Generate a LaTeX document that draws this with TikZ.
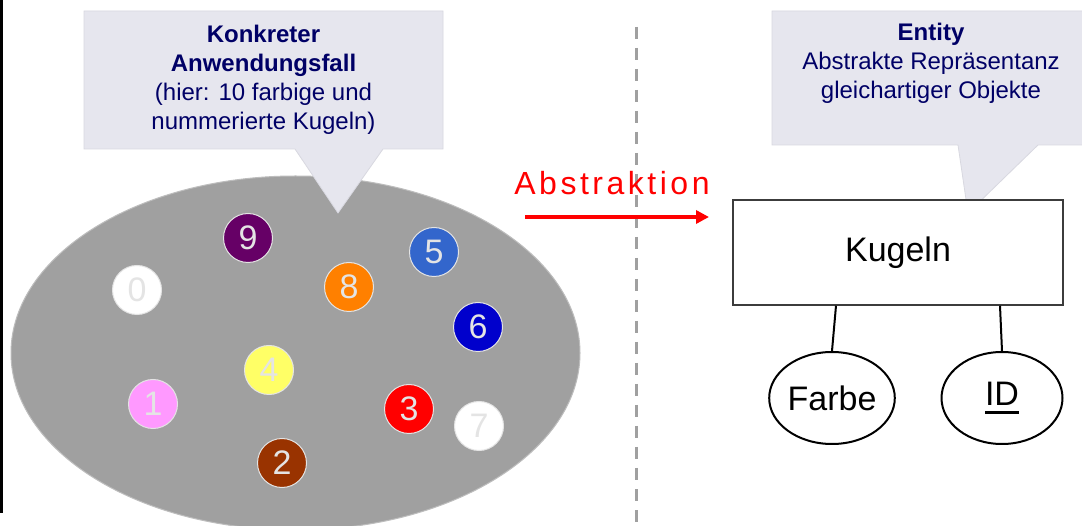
\documentclass[tikz,border=0pt]{standalone}
\usepackage{fontspec}
\setmainfont{Liberation Sans}
\usetikzlibrary{shapes.geometric,arrows.meta,calc}
\definecolor{calloutfill}{RGB}{230,230,238}
\definecolor{calloutedge}{RGB}{216,216,224}
\definecolor{navytext}{RGB}{0,0,102}
\definecolor{blobgray}{RGB}{160,160,160}
\definecolor{numgray}{RGB}{228,228,228}
\definecolor{divider}{RGB}{160,160,160}
\definecolor{boxedge}{RGB}{60,60,60}
\definecolor{cPurple}{RGB}{102,0,102}
\definecolor{cOrange}{RGB}{255,128,0}
\definecolor{cSky}{RGB}{51,102,204}
\definecolor{cBlue}{RGB}{0,0,204}
\definecolor{cYellow}{RGB}{255,255,102}
\definecolor{cPink}{RGB}{255,153,255}
\definecolor{cRed}{RGB}{255,0,0}
\definecolor{cBrown}{RGB}{153,51,0}
% key attribute: text with a thick underline
\newcommand\keyattr[1]{\setbox0\hbox{#1}\rlap{\vrule height -5.5pt depth 8.3pt width \wd0}\box0}
\tikzset{
  callout/.style={fill=calloutfill,draw=calloutedge,line width=0.8},
  callouttext/.style={text=navytext,align=center,inner sep=0,
    font=\fontsize{24}{29}\selectfont},
  ball/.style={circle,fill=#1,draw=numgray,line width=1,minimum size=49,
    inner sep=0,text=numgray,font=\fontsize{34}{34}\selectfont},
  entitybox/.style={draw=boxedge,line width=1.5,minimum width=330,
    minimum height=105,inner sep=0,font=\fontsize{34}{34}\selectfont},
  attribute/.style={ellipse,draw=black,line width=2,minimum width=121,
    minimum height=92,inner sep=0,font=\fontsize{34}{34}\selectfont},
  erline/.style={draw=black,line width=2},
  abstractarrow/.style={draw=red,line width=4,
    -{Triangle[length=13,width=13]}},
}
\begin{document}
\begin{tikzpicture}[x=1pt,y=-1pt]
\useasboundingbox (0,0) rectangle (1082,526);
\fill[white] (0,0) rectangle (1082,526);

% thin dark rule on the left edge
\fill[black] (0,0) rectangle (2.7,513);

% divider between concrete and abstract side
\draw[divider,line width=3,dash pattern=on 12 off 9] (636,27) coordinate (divtop) -- (636,522) coordinate (divbot);

% the set of balls
\node[ellipse,fill=blobgray,draw=blobgray!70!white,line width=1,
      minimum width=569,minimum height=354,inner sep=0] (blob) at (295.5,353) {};

% left callout
\path[callout] (84,11) -- (443,11) -- (443,149) -- (383,149) -- (338,213)
  -- (295,149) -- (84,149) -- cycle;
\node[callouttext] (concrete) at (263.5,80)
  {\textbf{Konkreter}\\\textbf{Anwendungsfall}\\(hier: 10 farbige und\\nummerierte Kugeln)};

% balls
\node[ball=cPurple] (b9) at (248,238) {9};
\node[ball=white]   (b0) at (137,290) {0};
\node[ball=cOrange] (b8) at (349,287) {8};
\node[ball=cSky]    (b5) at (434,252) {5};
\node[ball=cBlue]   (b6) at (478,327) {6};
\node[ball=cYellow] (b4) at (269,370) {4};
\node[ball=cPink]   (b1) at (153,404) {1};
\node[ball=cRed]    (b3) at (409,409) {3};
\node[ball=white]   (b7) at (479,426) {7};
\node[ball=cBrown]  (b2) at (282,463) {2};

% abstraction arrow
\node[text=red,inner sep=0,font=\fontsize{32}{32}\selectfont\addfontfeature{LetterSpace=11}]
  (abstr) at (612,183) {Abstraktion};
\coordinate (arrstart) at (525,217);
\coordinate (arrend) at (709,217);
\draw[abstractarrow] (arrstart) -- (arrend);

% right callout
\path[callout] (772,11) -- (1090,11) -- (1090,145) -- (1038,145) -- (968,213)
  -- (958,145) -- (772,145) -- cycle;
\node[callouttext] (entitytxt) at (931,63)
  {\textbf{Entity}\\Abstrakte Repräsentanz\\gleichartiger Objekte};

% entity with its attributes
\node[entitybox,fill=white] (kugeln) at (898,252.5) {Kugeln};
\node[attribute] (farbe) at (832,398) {Farbe};
\node[attribute] (ident) at (1002,398) {\keyattr{ID}};
\draw[erline] ($(farbe.north |- kugeln.south)+(4,0)$) -- (farbe.north);
\draw[erline] ($(ident.north |- kugeln.south)+(-2,0)$) -- (ident.north);
\end{tikzpicture}
\end{document}
